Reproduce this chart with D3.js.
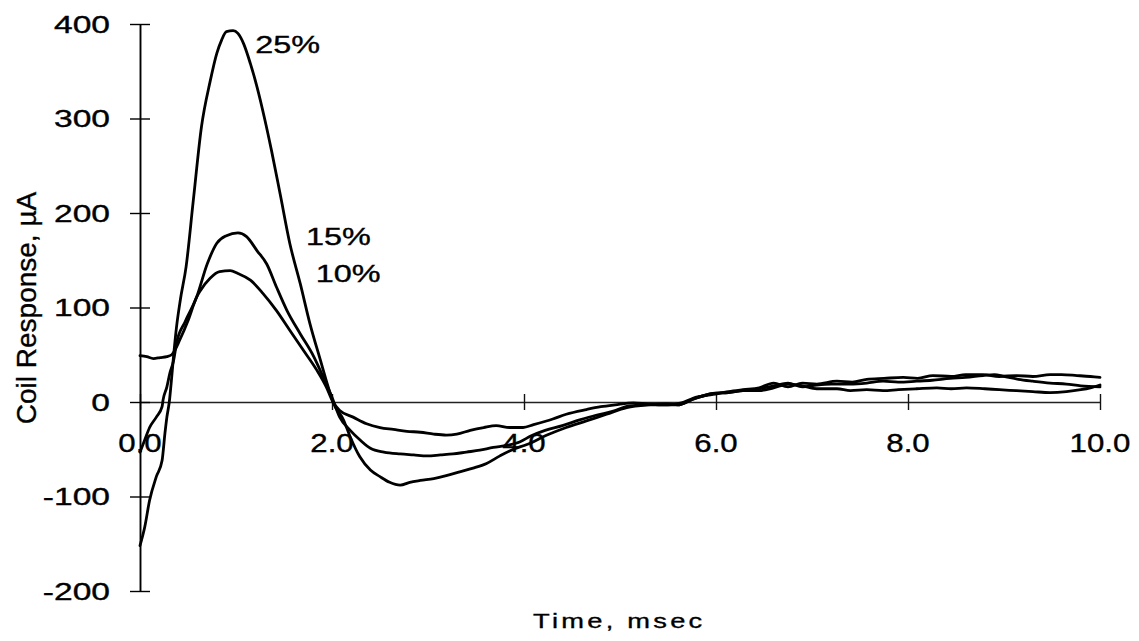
<!DOCTYPE html>
<html>
<head>
<meta charset="utf-8">
<script src="https://cdn.jsdelivr.net/npm/d3@7/dist/d3.min.js"></script>
<style>
  html, body { margin: 0; padding: 0; background: #fff; }
  svg { display: block; font-family: "Liberation Sans", Arial, Helvetica, sans-serif; }
</style>
</head>
<body>
<script>
// Coil response traces (µA) against time (ms) for three settings
const t25 = [0,0.05,0.10,0.17,0.23,0.26,0.28,0.305,0.33,0.35,0.38,0.42,0.48,0.555,0.64,0.73,0.80,0.85,0.90,0.97,1.02,1.08,1.15,1.22,1.30,1.37,1.46,1.56,1.67,1.77,1.88,1.96,2.01,2.12,2.19,2.29,2.40,2.50,2.60,2.71,2.81,2.92,3.06,3.19,3.33,3.47,3.61,3.75,3.89,4.03,4.24,4.44,4.65,4.86,5.07,5.28,5.49,5.6,5.76,5.97,6.13,6.28,6.45,6.6,6.75,6.9,7.05,7.2,7.4,7.57,7.74,7.9,8.09,8.25,8.44,8.6,8.78,8.9,9.0,9.15,9.3,9.48,9.65,9.8,10];
const v25 = [-152,-132,-104,-79,-62,-33,-16,0,26,49,79,108,143,213,291,339,369,383,392,393,390,379,358,333,299,266,220,168,125,83,44,16,0,-19,-37,-58,-72,-79,-85,-88,-85,-83,-81,-78,-74,-70,-65,-57,-50,-45,-35,-27,-20,-13,-6,-3,-2,-3,3,9,10,12,14,17,20,16,18,19,19,20,22,21,22,23,25,26,28,29,27,24,22,20,19,17,16];

const t15 = [0,0.05,0.10,0.17,0.23,0.24,0.28,0.31,0.35,0.38,0.47,0.59,0.70,0.80,0.90,1.02,1.11,1.22,1.32,1.42,1.53,1.67,1.81,1.91,2.0,2.08,2.19,2.29,2.40,2.54,2.71,2.85,2.99,3.13,3.26,3.40,3.54,3.68,3.82,3.96,4.07,4.22,4.40,4.58,4.75,4.92,5.10,5.30,5.50,5.64,5.76,5.97,6.13,6.28,6.45,6.6,6.75,6.9,7.05,7.26,7.42,7.57,7.75,7.95,8.1,8.26,8.45,8.6,8.78,8.95,9.13,9.3,9.48,9.6,9.76,9.9,10];
const v15 = [-53,-40,-27,-16,-5,2,16,30,44,62,85,111,146,168,176,179,175,160,146,122,97,72,48,26,5,-16,-30,-40,-49,-53,-55,-56,-57,-56,-55,-53,-51,-48,-46,-42,-36,-30,-25,-19,-14,-10,-4,-3,-3,-1,4,8,11,13,15,20,16,20,19,22,21,24,25,26,25,28,27,29,29,27,28,27,29,29,28,27,26];

const t10 = [0,0.07,0.14,0.21,0.28,0.33,0.42,0.50,0.59,0.63,0.73,0.83,0.94,1.02,1.15,1.28,1.42,1.56,1.70,1.84,1.94,2.01,2.08,2.22,2.36,2.50,2.64,2.78,2.92,3.06,3.19,3.30,3.44,3.58,3.71,3.85,3.99,4.10,4.30,4.44,4.65,4.80,4.95,5.14,5.28,5.45,5.6,5.76,5.97,6.13,6.28,6.45,6.6,6.75,6.9,7.05,7.26,7.4,7.57,7.74,7.9,8.09,8.3,8.45,8.61,8.8,8.95,9.13,9.3,9.48,9.65,9.8,9.9,10];
const v10 = [49,48,46,47,48,50,67,86,111,118,131,138,139,136,129,115,97,76,55,34,16,0,-9,-16,-23,-27,-29,-31,-32,-34,-35,-34,-30,-27,-25,-27,-27,-24,-18,-13,-8,-5,-3,-1,-2,-3,-3,3,9,10,12,12,15,19,17,14,14,12,13,12,13,14,15,14,15,14,13,12,11,10,11,13,15,18];

const seriesNames = ["25%", "15%", "10%"];
// anchor (time, value) for each series name
const nameTime = [1.20, 1.73, 1.83];
const nameValue = [369, 166, 127];

const xTicks = [0, 2, 4, 6, 8, 10];
const xTickLabels = ["0.0", "2.0", "4.0", "6.0", "8.0", "10.0"];
const yTicks = [-200, -100, 0, 100, 200, 300, 400];
const yTickLabels = ["-200", "-100", "0", "100", "200", "300", "400"];

const xTitle = "Time, msec";
const yTitle = "Coil Response, \u00B5A";

const W = 1139, H = 641;
const svg = d3.select("body").append("svg").attr("width", W).attr("height", H);

const x = d3.scaleLinear().domain([0, 10]).range([140, 1100]);
const y = d3.scaleLinear().domain([-200, 400]).range([591, 24]);

// x axis along the zero line, ticks crossing it
const gx = svg.append("g")
  .attr("transform", `translate(0,${y(0)})`)
  .call(d3.axisBottom(x).tickValues(xTicks).tickSize(8).tickSizeOuter(0).tickFormat(""));
gx.select(".domain").attr("stroke", "#222").attr("stroke-width", 1.3);
gx.selectAll(".tick line").attr("y1", -8).attr("y2", 8).attr("stroke", "#111").attr("stroke-width", 1.4);

// y axis
const gy = svg.append("g")
  .attr("transform", `translate(${x(0)},0)`)
  .call(d3.axisLeft(y).tickValues(yTicks).tickSize(10).tickSizeOuter(0).tickFormat(""));
gy.select(".domain").attr("stroke", "#000").attr("stroke-width", 1.9);
gy.selectAll(".tick line").attr("x1", 10).attr("x2", -10).attr("stroke", "#000").attr("stroke-width", 1.4);

// shared text look: slightly heavy, like a printed figure
const inked = sel => sel.attr("fill", "#000").attr("stroke", "#000").attr("stroke-width", 0.35);

// tick labels
svg.append("g").selectAll("text").data(xTicks).join("text")
  .attr("transform", d => `translate(${x(d)},452) scale(1.25,1)`)
  .attr("text-anchor", "middle")
  .attr("font-size", 25)
  .call(inked)
  .text((d, i) => xTickLabels[i]);

svg.append("g").selectAll("text").data(yTicks).join("text")
  .attr("transform", d => `translate(110,${y(d) + 8.5}) scale(1.4,1)`)
  .attr("text-anchor", "end")
  .attr("font-size", 24)
  .call(inked)
  .text((d, i) => yTickLabels[i]);

// traces
const series = [
  { t: t25, v: v25 },
  { t: t15, v: v15 },
  { t: t10, v: v10 }
];
const line = d3.line()
  .x(d => x(d[0]))
  .y(d => y(d[1]))
  .curve(d3.curveMonotoneX);

svg.append("g").selectAll("path").data(series).join("path")
  .attr("d", s => line(s.t.map((tt, i) => [tt, s.v[i]])))
  .attr("fill", "none")
  .attr("stroke", "#000")
  .attr("stroke-width", 2.8)
  .attr("stroke-linejoin", "round")
  .attr("stroke-linecap", "round");

// series names
svg.append("g").selectAll("text").data(seriesNames).join("text")
  .attr("transform", (d, i) => `translate(${x(nameTime[i])},${y(nameValue[i])}) scale(1.35,1)`)
  .attr("font-size", 24)
  .call(inked)
  .text(d => d);

// axis titles
svg.append("text")
  .attr("transform", "translate(533,628) scale(1.3,1)")
  .attr("font-size", 21)
  .attr("letter-spacing", 2.5)
  .call(inked)
  .text(xTitle);

svg.append("text")
  .attr("transform", "translate(36,308) rotate(-90)")
  .attr("text-anchor", "middle")
  .attr("font-size", 28)
  .call(inked)
  .text(yTitle);
</script>
</body>
</html>
